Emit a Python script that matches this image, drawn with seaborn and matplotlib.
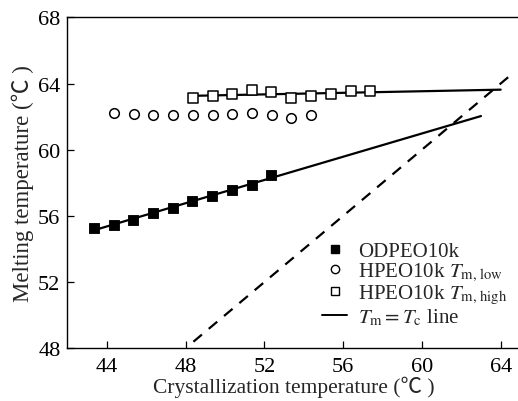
import numpy as np
import pandas as pd
import matplotlib
matplotlib.use("Agg")
import matplotlib.pyplot as plt
from matplotlib.lines import Line2D
import seaborn as sns

# ODPEO10k: melting vs crystallization temperature
od_tc = [43.35, 44.37, 45.35, 46.37, 47.35, 48.35, 49.35, 50.35, 51.35, 52.35]
od_tm = [55.25, 55.48, 55.78, 56.15, 56.5, 56.92, 57.22, 57.55, 57.85, 58.45]

# HPEO10k lower melting peak
hl_tc = [44.37, 45.37, 46.37, 47.37, 48.37, 49.37, 50.37, 51.37, 52.37, 53.37, 54.37]
hl_tm = [62.2, 62.14, 62.1, 62.08, 62.08, 62.12, 62.18, 62.22, 62.1, 61.92, 62.12]

# HPEO10k higher melting peak
hh_tc = [48.38, 49.37, 50.36, 51.36, 52.36, 53.38, 54.38, 55.38, 56.38, 57.38]
hh_tm = [63.13, 63.27, 63.37, 63.61, 63.47, 63.13, 63.23, 63.35, 63.52, 63.55]

# extent of the extrapolated fits and the Tm = Tc line
od_fit_range = [43.35, 63.0]
hh_fit_range = [48.38, 64.0]
diag_range = [48.4, 64.5]

x_ticks = [44, 48, 52, 56, 60, 64]
y_ticks = [48, 52, 56, 60, 64, 68]

sns.set_theme(style="ticks")
plt.rcParams["font.family"] = ["Liberation Serif", "Noto Sans CJK SC", "DejaVu Sans"]
plt.rcParams["mathtext.fontset"] = "stix"

fig = plt.figure(figsize=(5.18, 4.02), dpi=100)
ax = fig.add_axes([0.13, 0.131, 0.8746, 0.8235])

# linear fits extended over the plotted range
def fit_line(x, y, rng):
    k, b = np.polyfit(x, y, 1)
    xs = np.array(rng)
    return pd.DataFrame({"x": xs, "y": k * xs + b})

od_fit = fit_line(od_tc, od_tm, od_fit_range)
hh_fit = fit_line(hh_tc, hh_tm, hh_fit_range)
sns.lineplot(data=od_fit, x="x", y="y", ax=ax, color="black", lw=1.6)
sns.lineplot(data=hh_fit, x="x", y="y", ax=ax, color="black", lw=1.6)

diag = pd.DataFrame({"x": diag_range, "y": diag_range})
sns.lineplot(data=diag, x="x", y="y", ax=ax, color="black", lw=1.6,
             linestyle=(0, (5, 4)))

sns.scatterplot(x=od_tc, y=od_tm, ax=ax, marker="s", s=62,
                color="black", edgecolor="black", zorder=3)
sns.scatterplot(x=hl_tc, y=hl_tm, ax=ax, marker="o", s=48,
                facecolor="white", edgecolor="black", linewidth=1.1, zorder=3)
sns.scatterplot(x=hh_tc, y=hh_tm, ax=ax, marker="s", s=52,
                facecolor="white", edgecolor="black", linewidth=1.1, zorder=3)

ax.set_xlim(42, 65)
ax.set_ylim(48, 68)
ax.set_xticks(x_ticks)
ax.set_yticks(y_ticks)
ax.tick_params(direction="in", length=5, width=0.9, labelsize=16, colors="black")
ax.tick_params(axis="x", pad=6)
ax.tick_params(axis="y", pad=5)
ax.spines["right"].set_visible(False)
for s in ax.spines.values():
    s.set_linewidth(1.0)
    s.set_color("black")

ax.set_xlabel("Crystallization temperature (℃ )", fontsize=15.5, labelpad=0)
ax.set_ylabel("Melting temperature (℃ )", fontsize=16.5, labelpad=3)

handles = [
    Line2D([], [], marker="s", color="black", ls="none", markersize=6),
    Line2D([], [], marker="o", mfc="white", mec="black", ls="none", markersize=6, mew=1.0),
    Line2D([], [], marker="s", mfc="white", mec="black", ls="none", markersize=6, mew=1.0),
    Line2D([], [], color="black", lw=1.4),
]
labels = [
    "ODPEO10k",
    r"HPEO10k $T_{\rm m,\,low}$",
    r"HPEO10k $T_{\rm m,\,high}$",
    r"$T_{\rm m}=T_{\rm c}$ line",
]
ax.legend(handles, labels, loc="lower left", bbox_to_anchor=(0.53, 0.02),
          frameon=False, fontsize=15, handlelength=1.2, handletextpad=0.55,
          labelspacing=0.0, borderpad=0.2)

fig.savefig("out.png", dpi=100)
